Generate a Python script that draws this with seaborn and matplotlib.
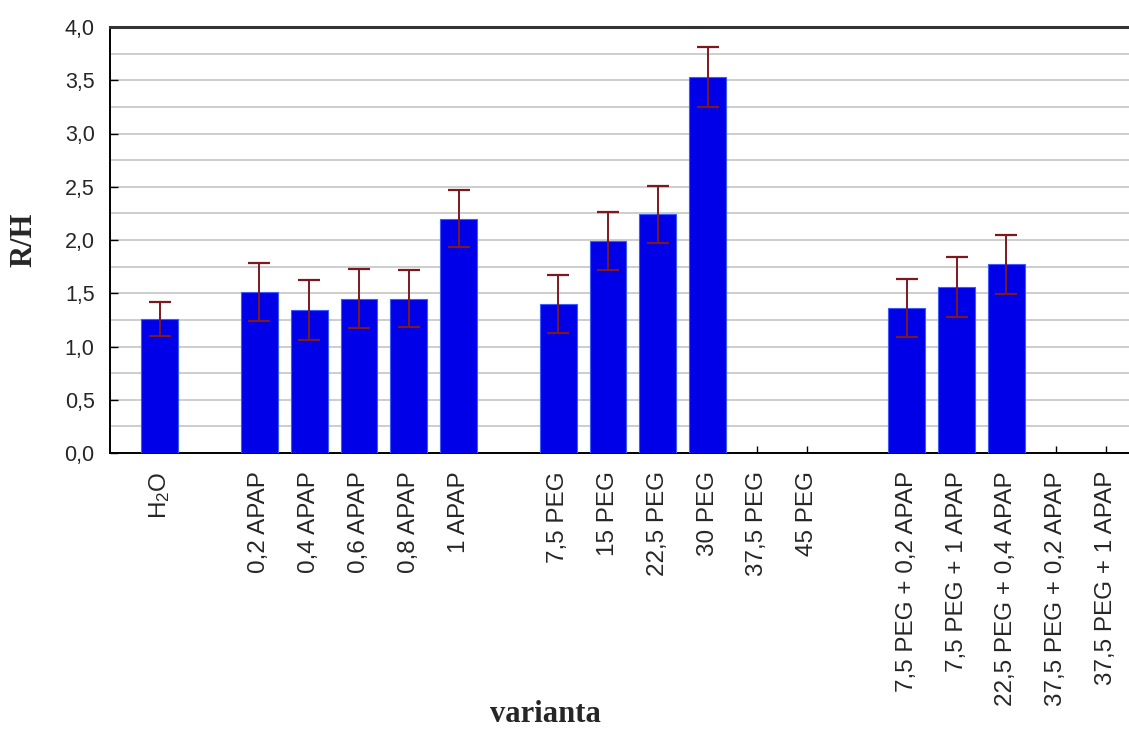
import matplotlib
matplotlib.use("Agg")
import matplotlib.pyplot as plt
import numpy as np
import pandas as pd
import seaborn as sns
from matplotlib.ticker import MultipleLocator, FixedLocator

# Measured R/H ratio per treatment variant (mean and error half-width)
categories = [
    "H$_2$O",
    "0,2 APAP", "0,4 APAP", "0,6 APAP", "0,8 APAP", "1 APAP",
    "7,5 PEG", "15 PEG", "22,5 PEG", "30 PEG", "37,5 PEG", "45 PEG",
    "7,5 PEG + 0,2 APAP", "7,5 PEG + 1 APAP", "22,5 PEG + 0,4 APAP",
    "37,5 PEG + 0,2 APAP", "37,5 PEG + 1 APAP",
]
values = [
    1.26,
    1.51, 1.34, 1.45, 1.45, 2.20,
    1.40, 1.99, 2.24, 3.53, np.nan, np.nan,
    1.36, 1.56, 1.77,
    np.nan, np.nan,
]
errors = [
    0.16,
    0.27, 0.28, 0.28, 0.27, 0.27,
    0.27, 0.27, 0.27, 0.28, np.nan, np.nan,
    0.27, 0.28, 0.28,
    np.nan, np.nan,
]
# groups separated by an empty slot on the axis
groups = [1, 5, 6, 5]

sns.set_theme(style="white")
plt.rcParams["font.family"] = ["Liberation Sans", "DejaVu Sans"]
plt.rcParams["mathtext.default"] = "regular"

# category order with blank spacer slots between groups
order = []
idx = 0
for g, n in enumerate(groups):
    if g > 0:
        order.append(" " * g)
    order.extend(categories[idx:idx + n])
    idx += n

df = pd.DataFrame({"varianta": categories, "RH": values, "err": errors})

fig = plt.figure(figsize=(11.29, 7.29), dpi=100)
ax = fig.add_axes([110 / 1129, (729 - 453) / 729, 1 - 110 / 1129, 426 / 729])

sns.barplot(data=df, x="varianta", y="RH", order=order, errorbar=None,
            color="#0000e8", saturation=1, width=0.74,
            edgecolor="#3b5cff", linewidth=0.8, ax=ax, zorder=3)

pos = {c: order.index(c) for c in categories}
xs = [pos[c] for c in categories]
ax.errorbar(xs, df["RH"], yerr=df["err"], fmt="none", ecolor="#7d1820",
            elinewidth=1.4, capsize=8, capthick=1.6, zorder=4)

ax.set_xlim(-1, 19.46)
ax.set_ylim(0, 4.0)
ax.yaxis.set_major_locator(MultipleLocator(0.5))
ax.yaxis.set_minor_locator(MultipleLocator(0.25))
ax.yaxis.set_major_formatter(matplotlib.ticker.FuncFormatter(
    lambda v, p: f"{v:.1f}".replace(".", ",")))
ax.grid(True, which="both", axis="y", color="#c9c9c9", linewidth=1.3, zorder=0)
ax.set_axisbelow(True)

ax.xaxis.set_major_locator(FixedLocator(xs))
ax.set_xticklabels(categories, rotation=90, fontsize=17.5)
ax.tick_params(axis="x", direction="in", length=5, width=1, color="black",
               pad=13, bottom=True)
ax.tick_params(axis="y", which="major", direction="in", length=6, width=1,
               color="black", labelsize=15.5, pad=11, left=True)
ax.tick_params(axis="y", which="minor", length=0)

for side in ("left", "bottom"):
    ax.spines[side].set_color("black")
    ax.spines[side].set_linewidth(1.4)
ax.spines["top"].set_color("#333333")
ax.spines["top"].set_linewidth(2.2)
ax.spines["right"].set_visible(False)

ax.set_xlabel("varianta", family="Liberation Serif", fontweight="bold",
              fontsize=22, va="center")
ax.set_ylabel("R/H", family="Liberation Serif", fontweight="bold",
              fontsize=22, va="center")
ax.xaxis.set_label_coords(435 / 1019, -262 / 426)
ax.yaxis.set_label_coords(-86 / 1019, 0.5)

fig.savefig("out.png", dpi=100, facecolor="white")
